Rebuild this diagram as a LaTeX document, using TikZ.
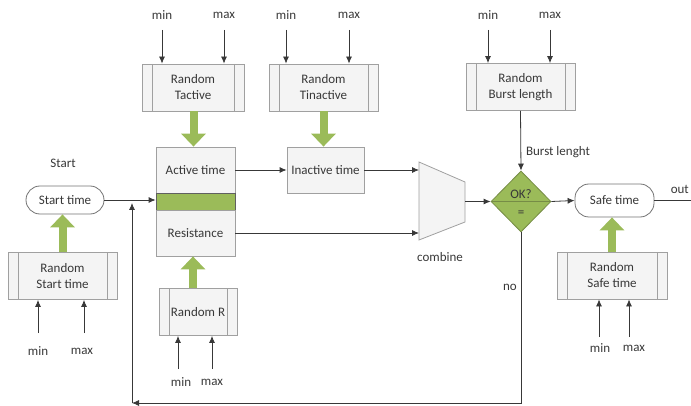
\documentclass[tikz,border=0pt]{standalone}
\usepackage{fontspec}
\setmainfont{Carlito}
\usetikzlibrary{arrows.meta,shapes.geometric}
\definecolor{boxline}{RGB}{160,160,160}
\definecolor{boxfill}{RGB}{244,244,244}
\definecolor{ink}{RGB}{56,56,56}
\definecolor{olive}{RGB}{155,187,89}
\definecolor{olivedark}{RGB}{118,140,70}
\tikzset{
  randbox/.style={draw=boxline,fill=boxfill,line width=0.8pt,minimum width=#1,minimum height=47pt,
    inner sep=0pt,align=center,
    path picture={
      \draw[boxline,line width=0.8pt] ([xshift=10pt]path picture bounding box.north west)
        -- ([xshift=10pt]path picture bounding box.south west);
      \draw[boxline,line width=0.8pt] ([xshift=-10pt]path picture bounding box.north east)
        -- ([xshift=-10pt]path picture bounding box.south east);}},
  timebox/.style={draw=boxline,fill=boxfill,line width=0.8pt,minimum width=#1,minimum height=46pt,inner sep=0pt},
  roundbox/.style={draw=ink!70,fill=white,line width=0.8pt,rounded corners=14pt,minimum width=#1,minimum height=30pt,inner sep=0pt},
  thinarr/.style={draw=ink,line width=0.8pt,-{Latex[length=7pt,width=6pt]}},
  fatarr/.style={draw=olive,line width=8pt,-{Triangle[width=24pt,length=13pt]}},
}
\begin{document}
\begin{tikzpicture}[x=1pt,y=-1pt,every node/.style={font=\fontsize{13}{16}\selectfont,text=ink}]
  \useasboundingbox (0,0) rectangle (691,406);

  % start
  \node (startlbl) at (63,163) {Start};
  \node[roundbox=78pt,minimum height=28pt] (start) at (65,200) {Start time};
  \node[randbox=109pt] (rstart) at (62.5,276) {Random\\Start time};

  % active / resistance block
  \node[timebox=79pt] (active) at (195.5,170) {Active time};
  \node[draw=ink!80,fill=olive,line width=0.8pt,minimum width=79pt,minimum height=17pt,inner sep=0pt] (band) at (195.5,201.5) {};
  \node[timebox=79pt] (resist) at (195.5,233) {Resistance};
  \node[randbox=102pt] (rtact) at (193,87.5) {Random\\Tactive};
  \node[randbox=78pt] (rres) at (198,312) {Random R};

  % inactive
  \node[timebox=77pt] (inactive) at (325.5,170) {Inactive time};
  \node[randbox=109pt] (rtinact) at (323.5,87.5) {Random\\Tinactive};

  % combine
  \path[draw=boxline,fill=boxfill,line width=0.8pt] (419,162) -- (465,182) -- (465,222) -- (419,240) -- cycle;
  \coordinate (cmbina) at (419,170);
  \coordinate (cmbinb) at (419,233);
  \coordinate (cmbout) at (465,201.5);
  \node (cmblbl) at (440,257) {combine};

  % check
  \node[diamond,draw=olivedark,fill=olive,line width=0.8pt,minimum width=60pt,minimum height=61pt,inner sep=0pt] (ok) at (521,201.5) {};
  \path[draw=olivedark,line width=0.8pt] (ok.west) -- (ok.east);
  \node (oktxt) at (521,194) {OK?};
  \node (eqtxt) at (521,214) {=};
  \node[randbox=109pt] (rburst) at (520.5,87) {Random\\Burst length};
  \node (burstlbl) at (558,152) {Burst lenght};
  \node (nolbl) at (510,287) {no};

  % safe
  \node[roundbox=79pt,minimum height=33pt] (safe) at (614.5,200.5) {Safe time};
  \node[randbox=110pt] (rsafe) at (612,275.5) {Random\\Safe time};
  \node[anchor=east,inner sep=1pt] (outlbl) at (690,189) {out};
  \coordinate (outend) at (691,200.5);

  % green arrows
  \path[fatarr] (rstart.north) -- (rstart.north |- start.south);
  \path[fatarr] ([xshift=0.5pt]rtact.south) -- ([xshift=0.5pt]rtact.south |- active.north);
  \path[fatarr] (rtinact.south) -- (rtinact.south |- inactive.north);
  \path[fatarr] ([xshift=-5pt]rres.north) -- ([xshift=-5pt]rres.north |- resist.south);
  \path[fatarr] (rsafe.north) -- (rsafe.north |- safe.south);

  % flow
  \path[thinarr] (start.east) -- (start.east -| band.west);
  \path[thinarr] (active.east) -- (inactive.west);
  \path[thinarr] (inactive.east) -- (cmbina);
  \path[thinarr] (resist.east) -- (cmbinb);
  \path[thinarr] (cmbout) -- (ok.west);
  \path[thinarr] (rburst.south) -- (ok.north);
  \path[thinarr] (ok.east) -- (safe.west);
  \path[draw=ink,line width=0.8pt] (safe.east) -- (outend);

  % feedback
  \coordinate (fbcorner) at (132,403);
  \coordinate (fbtop) at (132,203);
  \path[thinarr] (ok.south) |- (fbcorner);
  \path[thinarr] (fbcorner) -- (fbtop);

  % min / max from above
  \node (mina) at (162,15) {min};
  \node (maxa) at (224,15) {max};
  \node (minb) at (286,15) {min};
  \node (maxb) at (349,15) {max};
  \node (minc) at (488,15) {min};
  \node (maxc) at (550,15) {max};
  \path[thinarr] ([yshift=-15pt]mina.center) -- (mina |- rtact.north);
  \path[thinarr] ([yshift=-15pt]maxa.center) -- (maxa |- rtact.north);
  \path[thinarr] ([yshift=-15pt]minb.center) -- (minb |- rtinact.north);
  \path[thinarr] ([yshift=-15pt]maxb.center) -- (maxb |- rtinact.north);
  \path[thinarr] ([yshift=-15pt]minc.center) -- (minc |- rburst.north);
  \path[thinarr] ([yshift=-15pt]maxc.center) -- (maxc |- rburst.north);

  % min / max from below
  \node (mind) at (38,351) {min};
  \node (maxd) at (82,351) {max};
  \node (mine) at (181,382) {min};
  \node (maxe) at (212,382) {max};
  \node (minf) at (600,348) {min};
  \node (maxf) at (634,348) {max};
  \path[thinarr] ([yshift=18pt]mind.center) -- (mind |- rstart.south);
  \path[thinarr] ([xshift=2pt,yshift=18pt]maxd.center) -- ([xshift=2pt]maxd |- rstart.south);
  \path[thinarr] ([xshift=-3pt,yshift=13pt]mine.center) -- ([xshift=-3pt]mine |- rres.south);
  \path[thinarr] ([yshift=13pt]maxe.center) -- (maxe |- rres.south);
  \path[thinarr] ([xshift=-1pt,yshift=11pt]minf.center) -- ([xshift=-1pt]minf |- rsafe.south);
  \path[thinarr] ([xshift=-5pt,yshift=11pt]maxf.center) -- ([xshift=-5pt]maxf |- rsafe.south);
\end{tikzpicture}
\end{document}
